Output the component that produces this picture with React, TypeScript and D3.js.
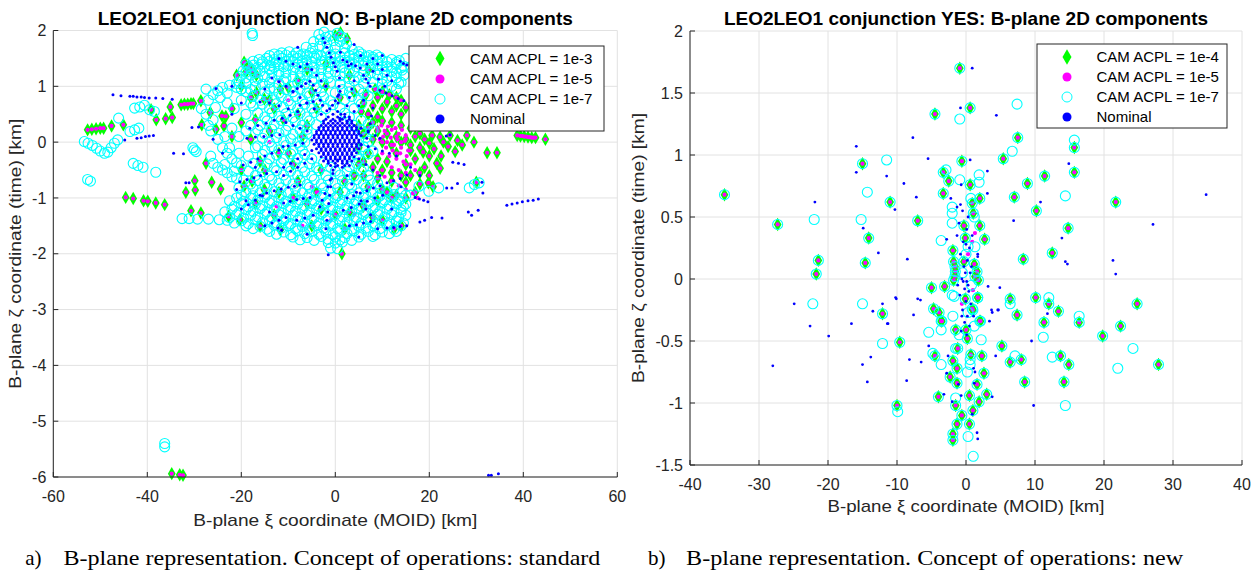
import React from "react";
import * as d3 from "d3";

type P = [number, number];

// ---------- ticks & labels ----------
const leftXTicks = [-60, -40, -20, 0, 20, 40, 60];
const leftYTicks = [-6, -5, -4, -3, -2, -1, 0, 1, 2];
const rightXTicks = [-40, -30, -20, -10, 0, 10, 20, 30, 40];
const rightYTicks = [-1.5, -1, -0.5, 0, 0.5, 1, 1.5, 2];
const leftLegend = ["CAM ACPL = 1e-3", "CAM ACPL = 1e-5", "CAM ACPL = 1e-7", "Nominal"];
const rightLegend = ["CAM ACPL = 1e-4", "CAM ACPL = 1e-5", "CAM ACPL = 1e-7", "Nominal"];
const leftTitle = "LEO2LEO1 conjunction NO: B-plane 2D components";
const rightTitle = "LEO2LEO1 conjunction YES: B-plane 2D components";
const xLabel = "B-plane \u03be coordinate (MOID) [km]";
const yLabel = "B-plane \u03b6 coordinate (time) [km]";
const captionA = ["a)", "B-plane representation. Concept of operations: standard"];
const captionB = ["b)", "B-plane representation. Concept of operations: new"];

// ---------- LEFT panel data (conjunction NO) ----------
const leftGreen: P[] = [
  [-52.7,0.22],[-51.8,0.23],[-50.9,0.24],[-50.0,0.25],[-49.3,0.25],[-47.6,0.29],[-45.1,0.31],
  [-39.2,0.58],[-38.1,0.40],[-36.1,0.42],[-34.7,0.44],[-35.1,0.63],[-32.8,0.67],[-32.1,0.68],[-31.4,0.68],[-30.7,0.69],[-30.2,0.69],[-28.6,0.74],[-28.4,0.31],[-26.6,0.53],[-23.3,0.46],
  [-44.6,-0.99],[-43.0,-1.01],[-40.8,-1.05],[-39.9,-1.06],[-38.2,-1.09],[-36.3,-1.12],
  [-29.9,-0.69],[-29.8,-0.86],[-31.8,-0.90],[-26.3,-0.72],[-24.4,-0.84],[-30.7,-1.23],[-28.6,-1.27],[-22.7,-1.33],[-27.5,-0.38],
  [-34.8,-5.94],[-33.1,-5.96],[-32.4,-5.97],
  [38.7,0.12],[39.4,0.11],[40.2,0.10],[41.0,0.09],[41.8,0.08],[42.6,0.08],[44.7,0.05],
  [32.3,-0.19],[34.4,-0.19],[30.0,-0.72],[25.5,-0.17],[22.5,-0.25],[1.4,-2.0],[1.1,1.96],[2.5,1.85],
  [8.5,0.95],[10,0.9],[11.5,0.85],[13,0.8],[14,0.75],[6,0.7],[8,0.65],[10,0.6],[12,0.55],[14,0.5],[7,0.5],[9,0.45],
  [5,0.3],[7,0.25],[9,0.2],[11,0.15],[13,0.1],[15,0.05],[17,0.1],[19,0.05],[20.6,0.12],[22.3,0.09],[24.4,0.12],[28,0.12],[18,0.15],[20,-0.02],[23,0.0],[26,0.03],
  [5,-0.1],[7,-0.2],[9,-0.3],[11,-0.35],[13,-0.2],[15,-0.4],[17,-0.3],[18.7,-0.18],[21.6,-0.38],[22.3,-0.47],[16,-0.15],[20,-0.25],[19,-0.45],
  [6,-0.6],[9,-0.65],[12,-0.7],[15,-0.72],[18,-0.75],[19.8,-0.73],[20.8,-0.8],[10,-0.85],
  [-19.4,1.43],[-18.5,1.35],[-17.6,1.28],[-16.8,1.2],[-19,1.25],[-16.8,0.89],[-15.1,0.77],[-11.7,0.95],[-10,0.98],[-13,0.6],[-8,0.5],
  [-24.1,0.47],[-25.4,0.23],[-23.7,0.29],[-22,0.1],[-20,0.35],[-18,0.05],[-14,0.2],[-12,-0.2],[-16,-0.35],[-20,-0.5],
  [-19.4,-0.79],[-17.7,-0.7],[-15.1,-0.85],[-12,-0.9],[-9,-1.0],[-6,-1.1],[-3,-1.2],[0,-1.3],[3,-1.25],[6,-1.15],[9,-1.05],[12,-1.0],
  [-20.3,-1.39],[-16,-1.51],[-11.7,-1.57],[-5,-1.5],[2,-1.55],[8,-1.35],[10,-1.4],[12.5,-1.55],[14,-1.5],
  [-8,1.1],[-5,0.9],[-2,1.0],[1,0.8],[4,0.9],[-6,0.3],[-3,-0.5],[2,-0.7],[5,-0.4],[-9,-0.4],[-4,0.6],[0,1.9],
  [6.5,0.85],[9,0.8],[11,0.72],[13,0.65],[15,0.62],[5.5,0.55],[8,0.35],[10,0.38],[12,0.35],[14,0.3],[16,0.25],[6,0.15],[8,0.05],[10,0.0],
  [12,-0.05],[14,0.0],[16,-0.05],[18,-0.1],[21,-0.12],[24,-0.08],[6,-0.35],[8,-0.45],[10,-0.5],[12,-0.55],[14,-0.6],[16,-0.6],[18,-0.55],
  [20,-0.6],[7,-0.8],[11,-0.9],[13,-0.95],[15,-1.0],[17,-0.9],[27,-0.05],[29.5,0.0],
  [-21,1.2],[-20,1.0],[-18,0.8],[-22,0.6],[-17,0.4],
  [-15,-0.5],[-10,-0.2],[-7,0.1],[-11,0.4],[-14,0.75],[-8,-0.7],[-4,-0.9],[1,-0.9],[4,-0.6],[-17,-1.1],[-13,-1.3],[-6,1.3],[-2,1.4],[3,1.2],[7,1.3]
];

const leftMagentaExtra: P[] = [
  [9,0.25],[10.5,0.2],[12,0.22],[13.5,0.15],[15,0.12],[9.5,0.05],[11,0.0],[12.5,-0.05],[14,-0.1],[15.5,-0.15],
  [10,-0.2],[11.5,-0.25],[13,-0.3],[14.5,-0.35],[16,-0.4],[12,-0.45],[13.5,-0.5],[15,-0.55],[17,-0.5],[9,-0.55],
  [10.5,-0.62],[12,-0.7],[13.5,-0.78],[15,-0.85],[16.5,-0.92],[17.5,-1.0],[39.8,0.11],[40.6,0.1],[41.4,0.09],[42.2,0.08],
  [-12,1.1],[-10,0.75],[-5,-0.8],[-3.5,-0.9],[-12.5,-1.15],[-7,-1.5],[-1,-1.4],[4,-1.3],[-18,1.3],[-14,0.0],
  [9.8,0.3],[11.2,0.28],[12.8,0.25],[14.2,0.22],[10.2,0.1],[11.8,0.08],[13.2,0.05],[14.8,0.02],[10.8,-0.1],[12.2,-0.15],[13.8,-0.2],[15.2,-0.25]
];

const leftCyan: P[] = [
  [-53.4,0.01],[-52.6,-0.02],[-51.7,-0.06],[-50.8,-0.11],[-50.0,-0.16],[-49.1,-0.2],[-48.4,-0.18],[-47.7,-0.1],[-47.0,-0.02],[-46.3,0.04],[-46.1,0.43],
  [-43.7,0.19],[-42.7,0.22],[-41.8,0.25],[-52.7,-0.67],[-52.1,-0.7],
  [-43.0,-0.38],[-42.0,-0.42],[-40.9,-0.45],[-38.2,-0.54],
  [-42.7,0.61],[-41.6,0.63],[-40.6,0.66],[-39.5,0.58],[-38.5,0.55],
  [-30.0,-0.14],[-29.6,-0.17],[-30.3,-0.1],
  [-32.6,-1.37],[-31.1,-1.37],[-29.3,-1.38],[-27.0,-1.38],[-24.7,-1.39],
  [-36.3,-5.40],[-36.3,-5.46],[-17.7,1.95],[-17.6,1.91],
  [17.8,-0.79],[19.9,-0.88],[22,-0.82],[28.5,-0.82],[30.6,-0.73],[29.6,-0.76],[16,-0.95],
  [-28.5,0.6],[-27,0.75],[-26,0.85],[-25,0.92],[-24,0.98],[-22.5,1.02],[-21,1.05],
  [-27.5,0.95],[-26.5,0.2],[-25,0.05],[-24,-0.1],[-23,-0.2],[-22,-0.3],[-21,-0.37],[-20,-0.42],[-26,-0.38],[-25,-0.45],[-24,-0.5],[-23,-0.55],[-22,-0.62],[-21,-0.65],
  [-27.5,0.5],[-25.5,0.62],[-23,0.7],[-21.5,0.6],[-20,0.75],[-19,0.9],[-22,0.25],[-20.5,0.1],[-19,0.5],[-17.5,0.65],[-18,0.3],[-17,-0.1],[-18.5,-0.25],
  [-3.5,1.93],[-2.4,1.97],[-1.2,1.9],[0.4,1.95],[1.5,1.88],
  [-4.6,1.8],[-3.2,1.84],[-1.8,1.78],[-0.4,1.82],[1.0,1.8],[2.4,1.76],
  [-6.2,1.7],[-4.8,1.68],[-3.3,1.72],[-1.6,1.66],[0.0,1.7],[2.0,1.68],[3.6,1.66],[5.0,1.62],
  [-13.0,1.58],[-11.4,1.6],[-9.8,1.62],[-8.3,1.6],[-6.8,1.58],[-5.3,1.6],[-3.8,1.57],[-2.0,1.6],[0.0,1.58],[2.0,1.6],[4.0,1.57],[5.6,1.58],[7.2,1.55],[8.8,1.56],
  [-16.2,1.48],[-14.6,1.5],[-13.0,1.48],[-11.4,1.5],[-9.8,1.48],[-8.0,1.5],[-6.2,1.47],[-4.2,1.5],[-2.2,1.46],[0.0,1.5],[2.0,1.47],[4.0,1.5],[6.0,1.46],[8.0,1.48],[10.0,1.46],[12.0,1.48],[13.6,1.46],[15.0,1.5],
  [-19.0,1.4],[-17.4,1.38],[-15.6,1.4],[-13.8,1.37],[-12.0,1.4],[-10.0,1.37],[-8.0,1.4],[-6.0,1.37],[-3.0,1.4],[0.0,1.37],[3.0,1.4],[6.0,1.37],[9.0,1.4],[11.0,1.36],[13.0,1.39],[14.6,1.36],
  [-19.6,1.28],[-17.8,1.3],[-16.0,1.27],[-14.0,1.3],[-12.0,1.27],[-9.0,1.3],[-6.0,1.27],[-3.0,1.3],[0.0,1.26],[3.0,1.29],[6.0,1.26],[9.0,1.3],[12.0,1.27],[14.2,1.29],
  [-20.2,1.18],[-18.0,1.2],[-15.0,1.17],[-12.0,1.2],[-9.0,1.17],[-6.0,1.2],[-3.0,1.16],[1.0,1.19],[5.0,1.16],[9.0,1.2],[12.0,1.17],[14.6,1.2],
  [-20.4,1.08],[-17.0,1.1],[-14.0,1.07],[-11.0,1.1],[-8.0,1.07],[-5.0,1.1],[-1.0,1.06],[4.0,1.1],[8.0,1.07],[11.0,1.1],[14.0,1.07],
  [-21.0,0.98],[-17.0,1.0],[-13.0,0.97],[-9.0,1.0],[-4.0,0.97],[3.0,1.0],[8.0,0.97],[12.0,1.0],
  [-15,0.9],[-12,0.88],[-9,0.9],[-6,0.88],[-3,0.9],[0,0.88],[3,0.9],[6,0.88],
  [-16,0.75],[-13,0.76],[-10,0.74],[-7,0.76],[-4,0.75],[-1,0.74],[2,0.76],[5,0.75],
  [-14,0.6],[-11,0.62],[-8,0.6],[-5,0.61],[-2,0.6],[1,0.62],[4,0.6],
  [-15,0.45],[-12,0.46],[-9,0.44],[-6,0.45],[-3,0.46],[3,0.45],
  [-16,0.3],[-13,0.31],[-10,0.29],[-7,0.3],[-4,0.31],[4,0.3],[7,0.32],
  [-15,0.15],[-12,0.16],[-9,0.14],[-6,0.15],[6,0.16],
  [-14,0.0],[-11,0.01],[-8,-0.01],[-6.5,0.0],[7,0.01],
  [-15,-0.15],[-12,-0.14],[-9,-0.16],[-7,-0.15],[6,-0.14],[8,-0.16],
  [-14,-0.3],[-11,-0.31],[-8,-0.29],[-5,-0.3],[5,-0.31],
  [-16,-0.45],[-13,-0.46],[-10,-0.44],[-7,-0.45],[-4,-0.46],[-1,-0.45],[3,-0.44],[6,-0.46],
  [-17,-0.6],[-14,-0.61],[-11,-0.59],[-8,-0.6],[-5,-0.61],[-2,-0.6],[1,-0.59],[4,-0.61],[7,-0.6],
  [-18,-0.75],[-15,-0.76],[-12,-0.74],[-9,-0.75],[-6,-0.76],[-3,-0.75],[0,-0.74],[3,-0.76],[6,-0.75],[9,-0.74],
  [-19,-0.9],[-16,-0.91],[-13,-0.89],[-10,-0.9],[-7,-0.91],[-4,-0.9],[-1,-0.89],[2,-0.9],[5,-0.91],[8,-0.9],[11,-0.89],[14,-0.9],
  [-21,-1.0],[-18,-1.01],[-15,-0.99],[-12,-1.0],[-9,-1.01],[-6,-1.0],[-3,-0.99],[0,-1.0],[3,-1.01],[6,-1.0],[9,-0.99],[12,-1.0],[14,-1.01],
  [-20,-1.1],[-17,-1.11],[-14,-1.09],[-11,-1.1],[-8,-1.11],[-5,-1.1],[-2,-1.09],[1,-1.1],[4,-1.11],[7,-1.1],[10,-1.09],[13,-1.1],[15,-1.11],
  [-22,-1.2],[-19,-1.21],[-16,-1.19],[-13,-1.2],[-10,-1.21],[-7,-1.2],[-4,-1.19],[-1,-1.2],[2,-1.21],[5,-1.2],[8,-1.19],[11,-1.2],[14,-1.21],
  [-21,-1.3],[-18,-1.31],[-15,-1.29],[-12,-1.3],[-9,-1.31],[-6,-1.3],[-3,-1.29],[0,-1.3],[3,-1.31],[6,-1.3],[9,-1.29],[12,-1.3],[15,-1.31],
  [-23,-1.4],[-20,-1.41],[-17,-1.39],[-14,-1.4],[-11,-1.41],[-8,-1.4],[-5,-1.39],[-2,-1.4],[1,-1.41],[4,-1.4],[7,-1.39],[10,-1.4],[13,-1.41],
  [-19,-1.5],[-16,-1.51],[-13,-1.49],[-10,-1.5],[-7,-1.51],[-4,-1.5],[-1,-1.49],[2,-1.5],[5,-1.51],[8,-1.5],[11,-1.49],[14,-1.5],
  [-14,-1.6],[-11,-1.61],[-8,-1.59],[-5,-1.6],[-2,-1.61],[1,-1.6],[4,-1.59],[7,-1.6],[10,-1.61],[13,-1.6],
  [-9,-1.7],[-6,-1.71],[-3,-1.69],[0,-1.7],[2,-1.71],[5,-1.7],[8,-1.69],
  [-1.5,-1.8],[0,-1.81],[1.5,-1.79],[-1,-1.9],[0.5,-1.91]
];

const leftCyanDense: P[] = [
  [-14,1.55],[-12,1.55],[-10.5,1.56],[-9,1.54],[-7.5,1.55],[-6,1.56],[-4.5,1.54],[-3,1.55],[-1,1.56],[1,1.54],[3,1.55],[5,1.54],[6.5,1.53],[8,1.52],[9.5,1.52],
  [-17.5,1.45],[-15.5,1.44],[-14,1.45],[-12.5,1.44],[-10.5,1.45],[-9,1.44],[-7,1.45],[-5,1.44],[-3,1.45],[-1,1.44],[1,1.45],[3,1.44],[5,1.45],[7,1.44],[9,1.45],[11,1.44],[13,1.43],
  [-18.5,1.35],[-16.5,1.34],[-15,1.35],[-13,1.34],[-11,1.35],[-8.5,1.34],[-7,1.35],[-4.5,1.34],[-1.5,1.35],[1.5,1.34],[4.5,1.35],[7.5,1.34],[10,1.35],[12,1.34],[14,1.33],
  [-19,1.25],[-17,1.24],[-13.5,1.25],[-10.5,1.24],[-7.5,1.25],[-4.5,1.24],[-1.5,1.25],[2,1.24],[4,1.25],[7.5,1.24],[10.5,1.25],[13,1.24],
  [-19,1.15],[-16.5,1.14],[-13.5,1.15],[-10.5,1.14],[-7.5,1.15],[-4.5,1.14],[-1.5,1.15],[3,1.14],[6.5,1.15],[10,1.14],[13,1.15],
  [-19,1.05],[-15.5,1.04],[-12,1.05],[-6.5,1.04],[-2.5,1.05],[1,1.04],[6,1.05],[10,1.04],[13.5,1.05],
  [-20,0.95],[-18,0.94],[-14,0.95],[-10.5,0.94],[-7.5,0.95],[1.5,0.94],[5,0.95],[10,0.94],[13,0.95],
  [-17.5,0.82],[-14.5,0.83],[-11.5,0.81],[-8.5,0.82],[-5.5,0.83],[-2.5,0.81],[3.5,0.82],[7,0.83],
  [-15.5,0.68],[-12.5,0.69],[-9.5,0.67],[-6.5,0.68],[-3.5,0.69],[-0.5,0.67],[5.5,0.68],
  [-16.5,0.52],[-13.5,0.53],[-10.5,0.51],[-7.5,0.52],[-4.5,0.53],[2,0.52],
  [-14.5,0.38],[-11.5,0.39],[-8.5,0.37],[-5.5,0.38],[5.5,0.39],
  [-16.5,0.22],[-13.5,0.23],[-10.5,0.21],[-7.5,0.22],[-6,0.23],[5.5,0.22],[8,0.21],
  [-15.5,0.07],[-12.5,0.08],[-9.5,0.06],[-7,0.07],[6.5,0.08],
  [-16.5,-0.07],[-13.5,-0.08],[-10.5,-0.06],[-7.5,-0.07],[6,-0.08],
  [-15.5,-0.22],[-12.5,-0.23],[-9.5,-0.21],[-6.5,-0.22],[4.5,-0.23],[7,-0.21],
  [-17.5,-0.38],[-14.5,-0.39],[-11.5,-0.37],[-8.5,-0.38],[-5.5,-0.39],[-2.5,-0.37],[4.5,-0.38],
  [-18.5,-0.52],[-15.5,-0.53],[-12.5,-0.51],[-9.5,-0.52],[-6.5,-0.53],[-3.5,-0.51],[0,-0.52],[2.5,-0.53],[5.5,-0.51],
  [-19.5,-0.68],[-16.5,-0.69],[-13.5,-0.67],[-10.5,-0.68],[-7.5,-0.69],[-4.5,-0.67],[-1.5,-0.68],[1.5,-0.69],[4.5,-0.67],[7.5,-0.68],
  [-20.5,-0.82],[-17.5,-0.83],[-14.5,-0.81],[-11.5,-0.82],[-8.5,-0.83],[-5.5,-0.81],[-2.5,-0.82],[0.5,-0.83],[3.5,-0.81],[6.5,-0.82],[9.5,-0.83],[12.5,-0.81],
  [-20,-0.95],[-17.5,-0.96],[-14.5,-0.94],[-11.5,-0.95],[-8.5,-0.96],[-5.5,-0.94],[-2.5,-0.95],[0.5,-0.96],[3.5,-0.94],[6.5,-0.95],[9.5,-0.96],[12.5,-0.94],[15,-0.95],
  [-22.5,-1.05],[-19.5,-1.06],[-16.5,-1.04],[-13.5,-1.05],[-10.5,-1.06],[-7.5,-1.04],[-4.5,-1.05],[-1.5,-1.06],[1.5,-1.04],[4.5,-1.05],[7.5,-1.06],[10.5,-1.04],[13.5,-1.05],
  [-21.5,-1.15],[-18.5,-1.16],[-15.5,-1.14],[-12.5,-1.15],[-9.5,-1.16],[-6.5,-1.14],[-3.5,-1.15],[-0.5,-1.16],[2.5,-1.14],[5.5,-1.15],[8.5,-1.16],[11.5,-1.14],[14.5,-1.15],
  [-23.5,-1.25],[-20.5,-1.26],[-17.5,-1.24],[-14.5,-1.25],[-11.5,-1.26],[-8.5,-1.24],[-5.5,-1.25],[-2.5,-1.26],[0.5,-1.24],[3.5,-1.25],[6.5,-1.26],[9.5,-1.24],[12.5,-1.25],[14,-1.26],
  [-22.5,-1.35],[-19.5,-1.36],[-16.5,-1.34],[-13.5,-1.35],[-10.5,-1.36],[-7.5,-1.34],[-4.5,-1.35],[-1.5,-1.36],[1.5,-1.34],[4.5,-1.35],[7.5,-1.36],[10.5,-1.34],[13.5,-1.35],
  [-21.5,-1.45],[-18.5,-1.46],[-15.5,-1.44],[-12.5,-1.45],[-9.5,-1.46],[-6.5,-1.44],[-3.5,-1.45],[-0.5,-1.46],[2.5,-1.44],[5.5,-1.45],[8.5,-1.46],[11.5,-1.44],[14.5,-1.45],
  [-17.5,-1.55],[-14.5,-1.56],[-11.5,-1.54],[-8.5,-1.55],[-5.5,-1.56],[-2.5,-1.54],[0.5,-1.55],[3.5,-1.56],[6.5,-1.54],[9.5,-1.55],[12.5,-1.56],
  [-12.5,-1.65],[-9.5,-1.66],[-6.5,-1.64],[-3.5,-1.65],[-0.5,-1.66],[2.5,-1.64],[5.5,-1.65],[8.5,-1.66],[11.5,-1.64],
  [-7.5,-1.75],[-4.5,-1.76],[-1.5,-1.74],[1,-1.75],[3.5,-1.76],[-2,1.88],[0.9,1.9],
  [-27,0.3],[-26,0.4],[-24.5,0.8],[-23.5,0.1],[-22.5,-0.1],[-20.5,-0.2],[-26.5,-0.25],[-23.5,-0.4],[-21.5,-0.52],[-19,0.2],[-18,0.7],[-20,0.95],[-23,0.88]
];

const leftBlue: P[] = [
  // central blob
  [-1.5,0.45],[0.5,0.45],[2,0.45],
  [-2.5,0.38],[-1,0.38],[0,0.38],[1,0.38],[2.5,0.38],[3.5,0.38],
  [-3,0.3],[-2,0.3],[-1,0.3],[0,0.3],[1,0.3],[2,0.3],[3,0.3],[4,0.3],
  [-3.5,0.22],[-2.5,0.22],[-1.5,0.22],[-0.5,0.22],[0.5,0.22],[1.5,0.22],[2.5,0.22],[3.5,0.22],[4.5,0.22],
  [-4,0.15],[-3,0.15],[-2,0.15],[-1,0.15],[0,0.15],[1,0.15],[2,0.15],[3,0.15],[4,0.15],[5,0.15],
  [-4.5,0.08],[-3.5,0.08],[-2.5,0.08],[-1.5,0.08],[-0.5,0.08],[0.5,0.08],[1.5,0.08],[2.5,0.08],[3.5,0.08],[4.5,0.08],
  [-4,0.0],[-3,0.0],[-2,0.0],[-1,0.0],[0,0.0],[1,0.0],[2,0.0],[3,0.0],[4,0.0],[5,0.0],
  [-3.5,-0.08],[-2.5,-0.08],[-1.5,-0.08],[-0.5,-0.08],[0.5,-0.08],[1.5,-0.08],[2.5,-0.08],[3.5,-0.08],[4.5,-0.08],
  [-3,-0.15],[-2,-0.15],[-1,-0.15],[0,-0.15],[1,-0.15],[2,-0.15],[3,-0.15],[4,-0.15],
  [-2.5,-0.22],[-1.5,-0.22],[-0.5,-0.22],[0.5,-0.22],[1.5,-0.22],[2.5,-0.22],[3.5,-0.22],
  [-2,-0.3],[-1,-0.3],[0,-0.3],[1,-0.3],[2,-0.3],[3,-0.3],
  [-1.5,-0.38],[0,-0.38],[1.5,-0.38],[2.5,-0.38],
  [-2,0.41],[-0.5,0.41],[1,0.41],[1.5,0.41],[3,0.41],
  [-2.5,0.34],[-1.5,0.34],[-0.5,0.34],[0.5,0.34],[1.5,0.34],[2.5,0.34],[3.5,0.34],
  [-3.5,0.26],[-2.5,0.26],[-1.5,0.26],[-0.5,0.26],[0.5,0.26],[1.5,0.26],[2.5,0.26],[3.5,0.26],[4.5,0.26],
  [-4,0.19],[-3,0.19],[-2,0.19],[-1,0.19],[0,0.19],[1,0.19],[2,0.19],[3,0.19],[4,0.19],[5,0.19],
  [-4.5,0.12],[-3.5,0.12],[-2.5,0.12],[-1.5,0.12],[-0.5,0.12],[0.5,0.12],[1.5,0.12],[2.5,0.12],[3.5,0.12],[4.5,0.12],[5.5,0.12],
  [-5,0.04],[-4,0.04],[-3,0.04],[-2,0.04],[-1,0.04],[0,0.04],[1,0.04],[2,0.04],[3,0.04],[4,0.04],[5,0.04],
  [-4.5,-0.04],[-3.5,-0.04],[-2.5,-0.04],[-1.5,-0.04],[-0.5,-0.04],[0.5,-0.04],[1.5,-0.04],[2.5,-0.04],[3.5,-0.04],[4.5,-0.04],[5.5,-0.04],
  [-4,-0.12],[-3,-0.12],[-2,-0.12],[-1,-0.12],[0,-0.12],[1,-0.12],[2,-0.12],[3,-0.12],[4,-0.12],[5,-0.12],
  [-3.5,-0.19],[-2.5,-0.19],[-1.5,-0.19],[-0.5,-0.19],[0.5,-0.19],[1.5,-0.19],[2.5,-0.19],[3.5,-0.19],[4.5,-0.19],
  [-3,-0.26],[-2,-0.26],[-1,-0.26],[0,-0.26],[1,-0.26],[2,-0.26],[3,-0.26],[4,-0.26],
  [-2.5,-0.34],[-1.5,-0.34],[-0.5,-0.34],[0.5,-0.34],[1.5,-0.34],[2.5,-0.34],[3.5,-0.34],
  [-1,-0.42],[0.5,-0.42],[2,-0.42],[3,-0.42],[-0.5,0.5],[1.2,0.5],
  // dotted tracks
  [-47.3,0.85],[-45.6,0.83],[-43.7,0.82],[-43.0,0.82],[-42.2,0.81],[-41.3,0.81],[-40.6,0.8],[-39.6,0.79],[-38.2,0.79],[-36.7,0.78],[-34.7,0.77],
  [-44.8,0.04],[-42.2,0.07],[-41.3,0.08],[-40.4,0.1],[-39.6,0.11],[-38.7,0.12],
  [-34.4,-0.2],[-32.3,-0.21],[-31.8,-0.73],[-31.1,-0.73],[-30.5,0.26],[-29.1,0.27],[-25.4,0.96],[-22,1.0],
  [-2.6,1.86],[-2.2,1.78],[-1.8,1.7],[-1.3,1.6],[-0.9,1.52],[-0.4,1.42],[0.0,1.35],[0.4,1.27],
  [1.6,1.47],[2.5,1.44],[3.4,1.4],[4.3,1.37],[5.3,1.33],
  [6,1.2],[6.5,1.13],[7,1.06],[7.4,1.0],
  [13.8,1.45],[14.5,1.41],[15.2,1.38],
  [9.5,0.93],[10.8,0.88],[12.1,0.83],[13.4,0.78],[14.6,0.74],[15.9,0.7],
  [8,0.61],[7.7,0.47],[7.4,0.33],[7.0,0.2],[6.7,0.07],
  [1,0.43],[2.5,0.37],[4,0.3],[5.5,0.25],[7,0.18],[8.5,0.12],[9.5,0.07],
  [1.1,1.61],[2.8,1.37],
  [5.4,1.55],[6.7,1.4],[8,1.27],[9.2,1.13],[10.5,1.0],
  [-9,0.91],[-8.1,0.96],[-7.2,1.0],[-6.3,1.05],[-5.4,1.09],
  [-7.5,0.66],[-6.1,0.7],[-4.7,0.73],
  [-18.2,0.25],[-16.5,0.3],[-14.7,0.34],[-13,0.39],[-11.3,0.43],[-9.6,0.48],
  [-18.8,0.07],[-17,0.09],[-15.2,0.1],[-13.5,0.12],[-11.8,0.13],
  [-19.6,-0.41],[-18,-0.36],[-16.5,-0.3],[-15,-0.25],[-13.5,-0.2],[-12,-0.14],[-11.1,-0.08],[-10,-0.07],[-8.5,-0.05],[-6.9,-0.02],
  [-4.7,1.02],[-4.2,0.93],[-3.7,0.84],[-3.2,0.75],[-2.7,0.66],[-1.8,0.56],[1,0.91],[0.5,0.82],[0,0.74],[-0.6,0.66],[-1.2,0.6],
  [-20.3,-0.71],[-18.8,-0.67],[-17.3,-0.64],[-15.9,-0.6],[-14.6,-0.56],
  [-16,-0.95],[-14.6,-0.91],[-13,-0.87],[-11.5,-0.84],[-10,-0.81],[-8.7,-0.79],[-7.5,-0.77],
  [-11,-1.09],[-9.6,-1.06],[-8.2,-1.03],[-6.8,-1.01],[-5.4,-0.99],
  [-8.2,-1.4],[-6.5,-1.36],[-4.7,-1.31],[-12.2,-1.54],[-11.4,-1.58],
  [-3.3,-1.16],[-2.8,-1.04],[-2.2,-0.92],[-1.6,-0.8],[-1.1,-0.68],[-0.5,-0.56],[0,-0.44],[0.5,-0.32],
  [-1.5,-2.02],
  [2.5,-1.0],[3.9,-0.96],[5.3,-0.91],[6.7,-0.87],[8.1,-0.82],[9.5,-0.78],[11,-0.73],[12.4,-0.69],[13.8,-0.65],[15.2,-0.59],
  [1.7,-1.22],[3.4,-1.17],[5.1,-1.11],[6.8,-1.06],[8.4,-1.0],[10.1,-0.95],
  [11,-1.54],[12.4,-1.53],[13.8,-1.51],[15.2,-1.5],
  [17,-0.99],[17.9,-1.02],[18.8,-1.04],[19.7,-1.07],
  [18,-1.43],[19,-1.4],[20.5,-1.35],[22.7,-1.36],
  [25,-0.36],[26.2,-0.38],[27.4,-0.4],[23.7,-0.82],[24.8,-0.82],[26,-0.74],
  [28.3,-1.25],[29.0,-1.31],[30.4,-1.22],
  [36.5,-1.13],[37.6,-1.11],[38.7,-1.09],[39.8,-1.07],[41,-1.05],[42.1,-1.04],[43.2,-1.02],
  [31.4,-0.91],[31.2,-0.72],[23.6,0.11],[24.4,0.13],
  [32.6,-5.97],[33.2,-5.97],[34.7,-5.94],
  [-5,-0.3],[-6.5,-0.38],[-8,-0.45],[-9.5,-0.52],[-11,-0.6],
  [5,-0.3],[6.5,-0.4],[8,-0.5],[9.5,-0.6],
  [2,0.5],[2.5,0.65],[3,0.8],[3.5,0.95],[4,1.1],
  [-6,0.2],[-7.5,0.25],[-9,0.3],[-10.5,0.35],
  [-3,0.5],[-4.5,0.6],[-6,0.7],[-7.5,0.8],[-9,0.9],[-10.5,1.0],[-12,1.08],[-13.5,1.15],
  [-5,-0.15],[-6.5,-0.22],[-8,-0.3],[-9.5,-0.38],[-11,-0.45],[-12.5,-0.53],
  [-0.5,-0.5],[-0.8,-0.65],[-1,-0.8],[-1.2,-0.95],[-1.4,-1.1],[-1.6,-1.25],[-1.8,-1.4],[-2,-1.55],
  [1.5,-0.45],[2.5,-0.6],[3.5,-0.75],[4.5,-0.9],[5.5,-1.05],[6.5,-1.2],[7.5,-1.3],
  [5.5,-0.05],[7,-0.08],[8.5,-0.12],[10,-0.16],[11.5,-0.2],[13,-0.25],
  [0.5,0.55],[0.6,0.7],[0.7,0.85],[0.8,1.0],[0.9,1.15],
  [3,0.45],[4,0.55],[5,0.65],[6,0.75],
  [-8,0.55],[-10,0.6],[-12,0.65],[-14,0.7],[-16,0.72],
  [-20,-1.2],[-18.5,-1.12],[-17,-1.04],[-15.5,-0.96],
  [-15,-1.5],[-13.5,-1.45],[-12,-1.4],[-10.5,-1.35],
  [3,-1.5],[4.5,-1.48],[6,-1.45],[7.5,-1.42],
  [-6,1.4],[-5,1.3],[-4,1.2],[-3,1.1],[-2,1.0],
  [8,1.5],[9,1.4],[10,1.3],[11,1.2],[12,1.1],
  [-12,1.5],[-10.5,1.45],[-9,1.4],[-7.5,1.35],
  [-22,0.5],[-24,-0.2],[-20,0.7],[-26,0.05],[-17,-0.45],[-14,-1.25],[-6,-1.65],[5,-1.7],[9,-1.55],[12,-1.2],
  [14,-0.8],[16,-0.45],[18,-0.6],[10,1.55],[-8,1.7],[4,1.75],[-15,0.95],[-21,-0.85],[-19,-1.05]
];

// ---------- RIGHT panel data (conjunction YES) ----------
const rightGreen: P[] = [
  [-35.0,0.68],[-27.3,0.44],[-21.7,0.04],[-21.4,0.15],[-15.0,0.93],[-14.6,0.13],[-14.1,0.33],[-11.0,0.62],[-7.0,0.47],[-5.0,-0.07],
  [-4.5,1.33],[-3.3,0.86],[-3.3,0.69],[-3.1,-0.06],[-2.5,0.79],[-0.9,1.70],[-0.6,0.95],[0.6,1.38],[0.6,0.76],[0.9,0.61],
  [1.05,0.53],[2.0,0.65],[-0.3,0.43],[2.0,0.43],[-0.1,0.33],[2.7,0.32],[-1.9,0.23],[-1.6,0.10],[-0.3,0.14],[1.2,0.12],
  [1.3,0.02],[-1.6,0.02],[5.4,0.97],[7.5,1.14],[7.0,0.66],[8.9,0.77],[8.3,0.16],[10.2,0.55],[11.4,0.83],[12.5,0.21],
  [14.8,0.41],[15.7,1.06],[15.7,0.86],[21.7,0.62],
  [-1.8,0.14],[-1.55,0.06],[-1.8,-0.01],[1.6,0.06],[1.8,-0.01],[1.7,-0.15],[1.0,-0.25],[2.1,-0.34],[0.2,-0.48],[-3.5,-0.34],
  [-12.1,-0.28],[-9.6,-0.51],[-10.0,-1.02],[-4.7,-0.24],[-3.9,-0.27],[-3.6,-0.34],[-4.5,-0.62],[-4.0,-0.95],[-1.9,-0.66],[-1.2,-0.56],
  [-1.3,-0.72],[-2.3,-0.79],[-1.3,-0.84],[-1.5,-1.02],[-0.6,-1.10],[-1.3,-1.17],[-1.9,-1.25],[-1.9,-1.30],[0.5,-1.17],[1.0,-1.06],
  [1.9,-0.99],[0.5,-0.94],[3.0,-0.93],[1.6,-0.85],[2.6,-0.76],[2.3,-0.62],[0.7,-0.61],[2.0,-0.34],[1.7,-0.15],[0.9,-0.24],
  [0.0,-0.41],[-1.5,-0.41],[-0.1,-0.16],[6.4,-0.16],[7.4,-0.29],[5.2,-0.54],[6.4,-0.67],[8.0,-0.65],[8.5,-0.83],[10.1,-0.15],
  [12.0,-0.20],[11.3,-0.35],[13.4,-0.26],[13.7,-0.62],[14.9,-0.69],[14.2,-0.83],[16.4,-0.35],[19.8,-0.46],[22.4,-0.38],[24.8,-0.20],
  [27.9,-0.69]
];

const rightMagentaExtra: P[] = [[1.3,0.37],[0.9,0.3],[1.0,-0.09],[-0.6,-0.2],[0.3,0.2]];

const rightCyanOnly: P[] = [
  [-22.0,0.48],[-15.2,0.48],[-14.3,0.70],[-11.5,0.96],[-3.6,0.31],[-2.9,0.88],[-0.9,1.29],[-0.9,0.80],[1.9,0.84],[1.9,0.78],
  [0.7,0.65],[-2.0,0.58],[-2.0,0.53],[-2.0,0.45],[1.2,0.50],[0.3,0.26],[1.3,0.26],[0.0,0.20],[7.4,1.41],[6.7,1.03],
  [15.7,1.12],[14.4,0.67],[-2.0,-0.13],
  [-22.2,-0.20],[-15.0,-0.20],[-12.1,-0.52],[-9.9,-1.07],[-5.4,-0.43],[-3.6,-0.41],[-4.8,-0.60],[-3.6,-0.69],[-1.9,-0.30],[-1.7,-0.14],
  [0.3,-0.27],[1.2,-0.38],[2.2,-0.49],[-1.5,-0.56],[0.6,-0.65],[0.6,-0.69],[-1.5,-0.96],[0.3,-1.27],[1.05,-1.43],[6.4,-0.20],
  [7.1,-0.62],[11.2,-0.47],[12.0,-0.15],[12.5,-0.63],[14.4,-1.02],[16.4,-0.30],[22.0,-0.72],[24.2,-0.56],
  [-0.5,0.05],[0.8,-0.05],[-1.0,-0.45],[0.2,-0.75]
];

const rightBlue: P[] = [
  [-15.9,1.07],[-15.9,0.86],[-21.9,0.62],[-14.9,0.41],[-12.7,0.21],[-10.3,0.56],[-11.5,0.83],[-9.0,0.77],[-7.7,1.14],[-7.2,0.66],
  [-5.5,0.97],[-8.5,0.16],[-10.1,-0.16],[-7.0,-0.16],[-0.8,1.38],[0.9,1.70],[0.6,0.96],[-0.7,0.76],[-2.2,0.65],[-0.8,0.60],
  [-1.3,0.58],[-2.8,0.32],[3.1,0.87],[3.1,0.69],[4.4,1.32],[6.9,0.47],[10.8,0.62],[14.9,0.93],[13.9,0.33],[14.4,0.14],
  [14.7,0.12],[21.3,0.15],[21.7,0.04],[27.1,0.44],[34.8,0.68],[3.2,-0.06],[4.9,-0.07],[1.7,0.18],[1.7,0.2],
  [-28.0,-0.70],[-24.9,-0.20],[-22.6,-0.38],[-19.9,-0.46],[-16.6,-0.36],[-15.0,-0.69],[-14.3,-0.83],[-13.8,-0.63],[-13.5,-0.26],[-12.1,-0.20],
  [-11.4,-0.36],[-11.3,-0.36],[-10.2,-0.15],[-8.6,-0.82],[-8.2,-0.65],[-7.6,-0.29],[-6.6,-0.17],[-6.5,-0.67],[-5.4,-0.54],[-3.2,-0.93],
  [-2.0,-0.99],[-0.7,-0.94],[1.6,-1.24],[1.7,-1.29],[0.9,-1.09],[3.8,-0.95],[3.8,-0.27],[4.7,-0.25],[4.3,-0.62],[9.5,-0.50],
  [9.8,-1.02],[11.8,-0.28],[3.4,-0.34],[3.7,-0.25],[4.6,-0.25],[-1.1,-0.85],[-2.6,-0.62],[-2.8,-0.76],[1.1,-0.72],[1.3,-0.75],[1.2,-0.84],
  [-0.5,0.55],[0.3,0.5],[-1,0.45],[0.1,0.4],[-0.4,0.3],[0.5,0.25],[-0.8,0.2],[0.2,0.15],[-0.3,0.1],[0.6,0.05],
  [-0.6,0.0],[0.1,-0.02],[-0.2,-0.08],[0.4,-0.1],[-0.9,-0.13],[0.0,-0.18],[0.7,-0.2],[-0.5,-0.25],[0.2,-0.3],[-0.2,-0.35],
  [0.5,-0.38],[-0.7,-0.42],[0.1,-0.45],[-0.1,0.05],[0.3,-0.05],[-0.4,-0.02],[0.8,0.1],[-1.2,-0.05],[1.1,-0.3],[-1.3,0.35],
  [0.0,0.28],[-0.6,-0.3],[0.9,0.35]
];

// ---------- styles ----------
const GREEN = "#00ff00";
const MAGENTA = "#ff00ff";
const CYAN = "#00ffff";
const BLUE = "#0000ff";
const AX = "#262626";
const GRID = "#e2e2e2";
const SANS = "'Liberation Sans', Arial, Helvetica, sans-serif";
const SERIF = "'Liberation Serif', 'Times New Roman', serif";

const diamondPath = d3.symbol().type(d3.symbolDiamond).size(52)() as string;
const legendDiamond = d3.symbol().type(d3.symbolDiamond).size(70)() as string;

type PanelProps = {
  box: { x0: number; x1: number; y0: number; y1: number };
  xDom: [number, number];
  yDom: [number, number];
  xTicks: number[];
  yTicks: number[];
  green: P[];
  magenta: P[];
  cyan: P[];
  blue: P[];
  blueR: number;
  title: string;
  titleY: number;
  xLabelY: number;
  xLabelW: number;
  xTickY: number;
  yLabelX: number;
  legendLabels: string[];
  legendBox: { x: number; y: number; w: number; h: number; rows: number[]; mx: number; tx: number };
};

function Panel(p: PanelProps) {
  const xs = d3.scaleLinear().domain(p.xDom).range([p.box.x0, p.box.x1]);
  const ys = d3.scaleLinear().domain(p.yDom).range([p.box.y1, p.box.y0]);
  const { x0, x1, y0, y1 } = p.box;
  const cx = (x0 + x1) / 2;
  const cy = (y0 + y1) / 2;
  const lb = p.legendBox;
  return (
    <g>
      {p.xTicks.map((t) => (
        <line key={"gx" + t} x1={xs(t)} x2={xs(t)} y1={y0} y2={y1} stroke={GRID} strokeWidth={1} />
      ))}
      {p.yTicks.map((t) => (
        <line key={"gy" + t} x1={x0} x2={x1} y1={ys(t)} y2={ys(t)} stroke={GRID} strokeWidth={1} />
      ))}
      {p.green.map((d, i) => (
        <path key={"g" + i} d={diamondPath} transform={`translate(${xs(d[0])},${ys(d[1])})`} fill={GREEN} />
      ))}
      {p.magenta.map((d, i) => (
        <circle key={"m" + i} cx={xs(d[0])} cy={ys(d[1])} r={2.1} fill={MAGENTA} />
      ))}
      {p.cyan.map((d, i) => (
        <circle key={"c" + i} cx={xs(d[0])} cy={ys(d[1])} r={5} fill="none" stroke={CYAN} strokeWidth={1.1} />
      ))}
      {p.blue.map((d, i) => (
        <circle key={"b" + i} cx={xs(d[0])} cy={ys(d[1])} r={p.blueR} fill={BLUE} />
      ))}
      <line x1={x0} x2={x1} y1={y1} y2={y1} stroke={AX} strokeWidth={1} />
      <line x1={x0} x2={x0} y1={y0} y2={y1} stroke={AX} strokeWidth={1} />
      {p.xTicks.map((t) => (
        <g key={"tx" + t}>
          <line x1={xs(t)} x2={xs(t)} y1={y1} y2={y1 - 5} stroke={AX} />
          <text x={xs(t)} y={p.xTickY} textAnchor="middle" fontFamily={SANS} fontSize={16} fill={AX}>
            {String(t)}
          </text>
        </g>
      ))}
      {p.yTicks.map((t) => (
        <g key={"ty" + t}>
          <line x1={x0} x2={x0 + 5} y1={ys(t)} y2={ys(t)} stroke={AX} />
          <text x={x0 - 7} y={ys(t) + 5.7} textAnchor="end" fontFamily={SANS} fontSize={16} fill={AX}>
            {String(t)}
          </text>
        </g>
      ))}
      <text x={cx} y={p.titleY} textAnchor="middle" fontFamily={SANS} fontWeight="bold" fontSize={19} fill="#000">
        {p.title}
      </text>
      <text x={cx} y={p.xLabelY} textAnchor="middle" fontFamily={SANS} fontSize={17} fill={AX}
        textLength={p.xLabelW} lengthAdjust="spacingAndGlyphs">
        {xLabel}
      </text>
      <text transform={`translate(${p.yLabelX},${cy}) rotate(-90)`} textAnchor="middle" fontFamily={SANS} fontSize={17} fill={AX}
        textLength={270} lengthAdjust="spacingAndGlyphs">
        {yLabel}
      </text>
      <rect x={lb.x} y={lb.y} width={lb.w} height={lb.h} fill="#fff" stroke={AX} strokeWidth={1} />
      <path d={legendDiamond} transform={`translate(${lb.mx},${lb.rows[0]})`} fill={GREEN} />
      <circle cx={lb.mx} cy={lb.rows[1]} r={4.5} fill={MAGENTA} />
      <circle cx={lb.mx} cy={lb.rows[2]} r={5} fill="none" stroke={CYAN} strokeWidth={1} />
      <circle cx={lb.mx} cy={lb.rows[3]} r={4.5} fill={BLUE} />
      {p.legendLabels.map((s, i) => (
        <text key={"l" + i} x={lb.tx} y={lb.rows[i] + 5.3} fontFamily={SANS} fontSize={15} fill="#000">
          {s}
        </text>
      ))}
    </g>
  );
}

export default function App() {
  const leftMagenta = [...leftGreen, ...leftMagentaExtra];
  const leftCyanAll = [...leftCyan, ...leftCyanDense];
  const rightMagenta = [...rightGreen, ...rightMagentaExtra];
  const rightCyan = [...rightGreen, ...rightCyanOnly];
  return (
    <svg width={1258} height={572} viewBox="0 0 1258 572"
      style={{ position: "absolute", left: 0, top: 0, background: "#fff" }}>
      <rect x={0} y={0} width={1258} height={572} fill="#fff" />
      <Panel
        box={{ x0: 53.3, x1: 617.3, y0: 30.5, y1: 477 }}
        xDom={[-60, 60]} yDom={[-6, 2]}
        xTicks={leftXTicks} yTicks={leftYTicks}
        green={leftGreen} magenta={leftMagenta} cyan={leftCyanAll} blue={leftBlue} blueR={1.5}
        title={leftTitle} titleY={25} xLabelY={526} xLabelW={284} xTickY={501.5} yLabelX={21}
        legendLabels={leftLegend}
        legendBox={{ x: 409, y: 46, w: 195, h: 85, rows: [58.5, 79, 99, 119], mx: 440, tx: 470 }}
      />
      <Panel
        box={{ x0: 690, x1: 1242, y0: 31, y1: 465 }}
        xDom={[-40, 40]} yDom={[-1.5, 2]}
        xTicks={rightXTicks} yTicks={rightYTicks}
        green={rightGreen} magenta={rightMagenta} cyan={rightCyan} blue={rightBlue} blueR={1.4}
        title={rightTitle} titleY={25} xLabelY={512} xLabelW={277} xTickY={490} yLabelX={643.5}
        legendLabels={rightLegend}
        legendBox={{ x: 1037, y: 44, w: 190, h: 84, rows: [57, 77, 97, 117], mx: 1067, tx: 1096.5 }}
      />
      <text x={25.2} y={565} fontFamily={SERIF} fontSize={21} fill="#000">{captionA[0]}</text>
      <text x={63.4} y={565} fontFamily={SERIF} fontSize={21} fill="#000" textLength={537} lengthAdjust="spacingAndGlyphs">{captionA[1]}</text>
      <text x={647.9} y={565} fontFamily={SERIF} fontSize={21} fill="#000">{captionB[0]}</text>
      <text x={686.1} y={565} fontFamily={SERIF} fontSize={21} fill="#000" textLength={497} lengthAdjust="spacingAndGlyphs">{captionB[1]}</text>
    </svg>
  );
}
